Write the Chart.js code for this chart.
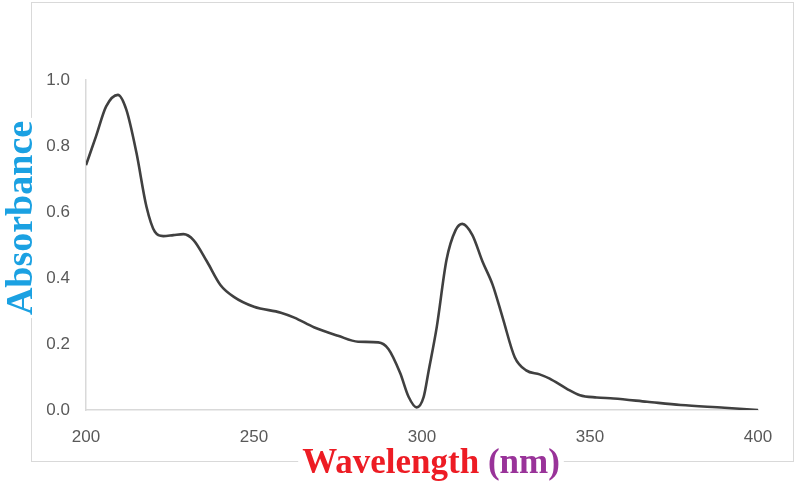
<!DOCTYPE html>
<html>
<head>
<meta charset="utf-8">
<script src="https://cdn.jsdelivr.net/npm/chart.js@4.4.1/dist/chart.umd.min.js"></script>
<style>
html,body{margin:0;padding:0;background:#fff;}
#wrap{position:relative;width:797px;height:484px;}
</style>
</head>
<body>
<div id="wrap"><canvas id="c" width="797" height="484"></canvas></div>
<script>
const wavelength = [200,203,206,209.5,212,215,218,220.5,223,226,229,232,236,240,244,250,258,262,268,275,281,287,290,293.5,296,298.4,300.5,302,304.4,307.3,310,312,315,318,321,324,327.6,331,335,338,343,347,352,357,367,377,390,400];
const absorbance = [0.742,0.83,0.92,0.955,0.91,0.78,0.616,0.54,0.527,0.53,0.533,0.515,0.45,0.379,0.343,0.313,0.295,0.28,0.25,0.225,0.207,0.205,0.185,0.112,0.04,0.008,0.04,0.12,0.252,0.455,0.545,0.564,0.53,0.45,0.38,0.28,0.16,0.12,0.108,0.095,0.065,0.045,0.038,0.035,0.025,0.015,0.007,0.0];
const xTicks = [200,250,300,350,400];
const yTicks = [0.0,0.2,0.4,0.6,0.8,1.0];
const yTitle = "Absorbance";
const xTitleMain = "Wavelength ";
const xTitleUnit = "(nm)";

const points = wavelength.map((w,i)=>({x:w,y:absorbance[i]}));

const framePlugin = {
  id:'frame',
  beforeDraw(chart){
    const ctx = chart.ctx;
    ctx.save();
    ctx.fillStyle='#fff';
    ctx.fillRect(0,0,chart.width,chart.height);
    ctx.strokeStyle='#d9d9d9';
    ctx.lineWidth=1;
    ctx.strokeRect(31.5,2.5,762,459);
    ctx.restore();
  },
  afterDraw(chart){
    const ctx = chart.ctx;
    ctx.save();
    ctx.font = 'bold 38px "Liberation Serif", "Times New Roman", serif';
    const wY = ctx.measureText(yTitle).width;
    const cx = 20, cy = 218;
    ctx.translate(cx,cy);
    ctx.rotate(-Math.PI/2);
    ctx.fillStyle='#fff';
    ctx.fillRect(-wY/2-3,-18,wY+6,36);
    ctx.fillStyle='#1ba1e2';
    ctx.textAlign='center';
    ctx.textBaseline='middle';
    ctx.fillText(yTitle,0,2);
    ctx.restore();
    ctx.save();
    ctx.font = 'bold 35px "Liberation Serif", "Times New Roman", serif';
    const w1 = ctx.measureText(xTitleMain).width;
    const w2 = ctx.measureText(xTitleUnit).width;
    const total = w1+w2;
    const mx = 431, my = 461;
    const sx = mx - total/2;
    ctx.fillStyle='#fff';
    ctx.fillRect(sx-4,my-4,total+8,8);
    ctx.textBaseline='alphabetic';
    ctx.textAlign='left';
    ctx.fillStyle='#ed1c24';
    ctx.fillText(xTitleMain,sx,my+12);
    ctx.fillStyle='#993399';
    ctx.fillText(xTitleUnit,sx+w1,my+12);
    ctx.restore();
  }
};

new Chart(document.getElementById('c'),{
  type:'scatter',
  data:{datasets:[{
    data:points,
    showLine:true,
    borderColor:'#404040',
    borderWidth:2.6,
    pointRadius:0,
    tension:0.4,
    cubicInterpolationMode:'monotone',
    fill:false
  }]},
  options:{
    responsive:false,
    animation:false,
    layout:{padding:{left:0,right:39,top:80,bottom:0}},
    plugins:{legend:{display:false},tooltip:{enabled:false}},
    scales:{
      x:{
        type:'linear',min:200,max:400,
        afterBuildTicks(s){s.ticks = xTicks.map(v=>({value:v}));},
        afterFit(s){s.height=74;},
        grid:{display:false,drawTicks:false},
        border:{display:true,color:'#d9d9d9',width:1.5},
        ticks:{padding:17,color:'#595959',font:{family:'"Liberation Sans", Arial, sans-serif',size:17},maxRotation:0,callback:v=>String(v)}
      },
      y:{
        min:0,max:1,
        afterBuildTicks(s){s.ticks = yTicks.map(v=>({value:v}));},
        afterFit(s){s.width=86;},
        grid:{display:false,drawTicks:false},
        border:{display:true,color:'#d9d9d9',width:1.5},
        ticks:{padding:16,color:'#595959',font:{family:'"Liberation Sans", Arial, sans-serif',size:17},callback:v=>Number(v).toFixed(1)}
      }
    }
  },
  plugins:[framePlugin]
});
</script>
</body>
</html>
